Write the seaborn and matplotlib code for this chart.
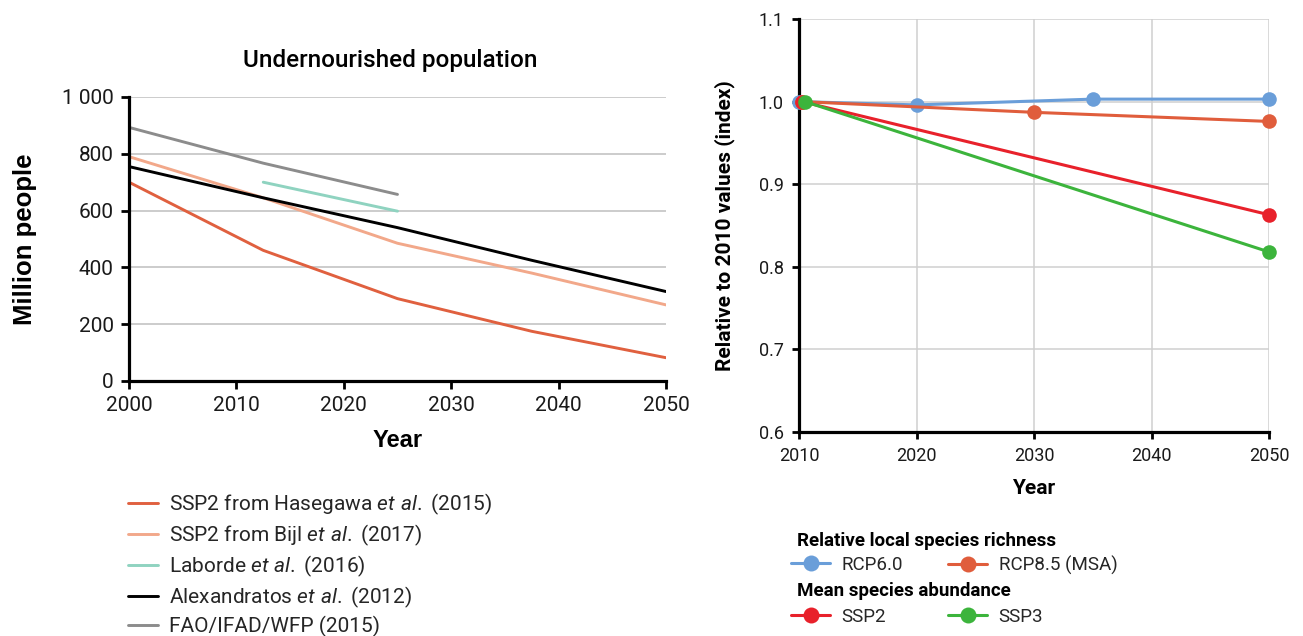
import matplotlib
matplotlib.use("Agg")
import matplotlib.pyplot as plt
from matplotlib.lines import Line2D
import seaborn as sns

sns.set_theme(style="white")
plt.rcParams["font.family"] = ["Roboto", "DejaVu Sans"]
plt.rcParams["mathtext.fontset"] = "custom"
plt.rcParams["mathtext.rm"] = "Roboto"
plt.rcParams["mathtext.it"] = "Roboto:italic"

# ---- Undernourished population (million people) ----
years_hasegawa = [2000, 2012.5, 2025, 2037.5, 2050]
hasegawa = [700, 460, 290, 175, 82]
years_bijl = [2000, 2012.5, 2025, 2037.5, 2050]
bijl = [790, 645, 485, 380, 268]
years_laborde = [2012.5, 2025]
laborde = [700, 598]
years_alex = [2000, 2012.5, 2025, 2037.5, 2050]
alexandratos = [755, 645, 540, 425, 315]
years_fao = [2000, 2012.5, 2025]
fao = [893, 767, 657]

left_labels = [
    r"SSP2 from Hasegawa $\it{et\ al.}$ (2015)",
    r"SSP2 from Bijl $\it{et\ al.}$ (2017)",
    r"Laborde $\it{et\ al.}$ (2016)",
    r"Alexandratos $\it{et\ al.}$ (2012)",
    "FAO/IFAD/WFP (2015)",
]
left_colors = ["#e0603f", "#f2a88a", "#8fd3c0", "#000000", "#8c8c8c"]
left_yticks = [0, 200, 400, 600, 800, 1000]
left_yticklabels = ["0", "200", "400", "600", "800", "1 000"]
left_xticks = [2000, 2010, 2020, 2030, 2040, 2050]

# ---- Biodiversity indices relative to 2010 ----
years_rcp60 = [2010, 2020, 2035, 2050]
rcp60 = [1.0, 0.996, 1.003, 1.003]
years_rcp85 = [2010.25, 2030, 2050]
rcp85 = [1.0, 0.987, 0.976]
years_ssp2 = [2010.25, 2050]
ssp2 = [1.0, 0.863]
years_ssp3 = [2010.5, 2050]
ssp3 = [1.0, 0.818]

right_labels = ["RCP6.0", "RCP8.5 (MSA)", "SSP2", "SSP3"]
right_colors = ["#6a9ed9", "#e05d3c", "#e8212b", "#3cb43c"]
right_headers = ["Relative local species richness", "Mean species abundance"]
right_yticks = [0.6, 0.7, 0.8, 0.9, 1.0, 1.1]
right_xticks = [2010, 2020, 2030, 2040, 2050]

W, H = 1303, 636
fig = plt.figure(figsize=(W / 100, H / 100), dpi=100)


def fx(px):
    return px / W


def fy(py):
    return 1 - py / H


ax1 = fig.add_axes([fx(129), fy(381), (666 - 129) / W, (381 - 97) / H])
ax2 = fig.add_axes([fx(799), fy(432), (1269 - 799) / W, (432 - 19) / H])

# left panel lines
left_series = [
    (years_hasegawa, hasegawa),
    (years_bijl, bijl),
    (years_laborde, laborde),
    (years_alex, alexandratos),
    (years_fao, fao),
]
for (xs, ys), col, lab in zip(left_series, left_colors, left_labels):
    sns.lineplot(x=xs, y=ys, ax=ax1, color=col, linewidth=2.1, label=lab,
                 legend=False, sort=False)

ax1.set_xlim(2000, 2050)
ax1.set_ylim(0, 1000)
ax1.set_yticks(left_yticks)
ax1.set_yticklabels(left_yticklabels)
ax1.set_xticks(left_xticks)
ax1.grid(axis="y", color="#c4c4c4", linewidth=1.2)
ax1.grid(axis="x", visible=False)
for s in ["top", "right"]:
    ax1.spines[s].set_visible(False)
for s in ["left", "bottom"]:
    ax1.spines[s].set_color("black")
    ax1.spines[s].set_linewidth(2.3)
ax1.tick_params(axis="both", which="major", direction="out", length=6, width=2,
                color="black", labelsize=15, labelcolor="#1a1a1a", pad=5,
                left=True, bottom=True)
ax1.set_xlabel("Year", fontsize=17, fontweight="bold",
               family=["Liberation Sans", "DejaVu Sans"], color="black")
ax1.set_ylabel("Million people", fontsize=18.5, fontweight="bold",
               family=["Liberation Sans", "DejaVu Sans"], color="black")
ax1.xaxis.set_label_coords(0.5, -0.17)
ax1.yaxis.set_label_coords(-0.172, 0.5)
fig.text(fx(390), fy(60), "Undernourished population", ha="center", va="center",
         fontsize=17.5, fontweight="medium", color="black")

# left legend
h1, l1 = ax1.get_legend_handles_labels()
fig.legend(h1, l1, loc="upper left", bbox_to_anchor=(fx(128), fy(492)),
           frameon=False, fontsize=15, handlelength=1.45, handletextpad=0.5,
           labelspacing=0.27, borderpad=0, borderaxespad=0)

# right panel lines
right_series = [
    (years_rcp60, rcp60),
    (years_rcp85, rcp85),
    (years_ssp2, ssp2),
    (years_ssp3, ssp3),
]
for (xs, ys), col in zip(right_series, right_colors):
    sns.lineplot(x=xs, y=ys, ax=ax2, color=col, linewidth=2.2, marker="o",
                 markersize=10.5, markeredgewidth=0, legend=False, sort=False,
                 clip_on=False, zorder=3)

ax2.set_xlim(2010, 2050)
ax2.set_ylim(0.6, 1.1)
ax2.set_yticks(right_yticks)
ax2.set_xticks(right_xticks)
ax2.grid(True, color="#cfcfcf", linewidth=1.1)
for s in ["top", "right"]:
    ax2.spines[s].set_visible(False)
for s in ["left", "bottom"]:
    ax2.spines[s].set_color("black")
    ax2.spines[s].set_linewidth(2.3)
    ax2.spines[s].set_zorder(2.5)
ax2.tick_params(axis="both", which="major", direction="out", length=5, width=2,
                color="black", labelsize=13, labelcolor="#1a1a1a", pad=6,
                left=True, bottom=True)
ax2.set_xlabel("Year", fontsize=15, fontweight="bold", color="black")
ax2.set_ylabel("Relative to 2010 values (index)", fontsize=15, fontweight="bold",
               color="black")
ax2.xaxis.set_label_coords(0.5, -0.114)
ax2.yaxis.set_label_coords(-0.136, 0.5)

# right legend: two bold headers, two entries each
fig.text(fx(797), fy(541), right_headers[0], ha="left", va="center",
         fontsize=13.5, fontweight="bold", color="black")
fig.text(fx(797), fy(591), right_headers[1], ha="left", va="center",
         fontsize=13.5, fontweight="bold", color="black")
entry_pos = [(791, 565), (948, 565), (791, 617), (948, 617)]
for lab, col, (px, py) in zip(right_labels, right_colors, entry_pos):
    handle = Line2D([], [], color=col, linewidth=2.2, marker="o",
                    markersize=11.5, markeredgewidth=0)
    fig.legend([handle], [lab], loc="center left",
               bbox_to_anchor=(fx(px), fy(py)), frameon=False, fontsize=13.5,
               handlelength=2.1, handletextpad=0.6, borderpad=0,
               borderaxespad=0)

fig.savefig("out.png", dpi=100)
